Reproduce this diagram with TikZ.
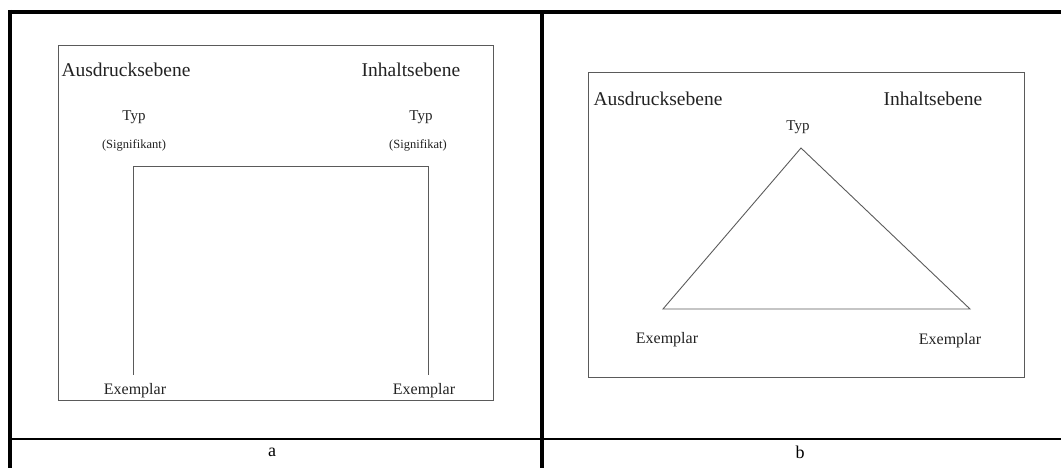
\documentclass[tikz,border=0pt]{standalone}
\usepackage{fontspec}
\setmainfont{Liberation Serif}
\usepackage{xcolor}
\usetikzlibrary{positioning,calc}

\definecolor{ink}{HTML}{222222}
\definecolor{pencil}{HTML}{5A5A5A}

\begin{document}
\begin{tikzpicture}[
  x=1pt, y=-1pt,
  every node/.style={inner sep=1pt, text=ink},
  ebene/.style={font=\fontsize{19.5}{22}\selectfont},
  typ/.style={font=\fontsize{15}{17}\selectfont},
  sig/.style={font=\fontsize{12.5}{14}\selectfont},
  exemplar/.style={font=\fontsize{16}{18}\selectfont},
  caption/.style={font=\fontsize{18}{20}\selectfont, text=black},
  frame/.style={draw=black, line width=4pt},
  rule/.style={draw=black, line width=2.2pt},
  panel/.style={draw=pencil, line width=0.9pt},
  link/.style={draw=pencil, line width=0.9pt}
]
\useasboundingbox (0,0) rectangle (1061,468);

% table
\draw[frame] (8,12) -- (1061,12);
\draw[frame] (10,10) -- (10,468);
\draw[frame] (542,12) -- (542,468);
\draw[rule] (10,439) -- (1061,439);
\node[caption] (capA) at (272,452) {a};
\node[caption] (capB) at (800,452) {b};

% panel a
\draw[panel] (58,45) rectangle (493,400);
\node[ebene] (ausdA) at (126,70) {Ausdrucksebene};
\node[ebene] (inhA) at (411,70) {Inhaltsebene};
\node[typ] (typA1) at (134,117) {Typ};
\node[typ] (typA2) at (421,117) {Typ};
\node[sig] (sigA1) at (134,145) {(Signifikant)};
\node[sig] (sigA2) at (418,145) {(Signifikat)};
\node[exemplar] (exA1) at (135,391) {Exemplar};
\node[exemplar] (exA2) at (424,391) {Exemplar};
\coordinate (kA1) at (133,166);
\coordinate (kA2) at (428,166);
\draw[link, shorten <=8pt, shorten >=8pt]
  (kA1 |- exA1.north) -- (kA1) -- (kA2) -- (kA2 |- exA2.north);

% panel b
\draw[panel] (588,72) rectangle (1024,377);
\node[ebene] (ausdB) at (658,99) {Ausdrucksebene};
\node[ebene] (inhB) at (933,99) {Inhaltsebene};
\node[typ] (typB) at (798,127) {Typ};
\node[exemplar] (exB1) at (667,340) {Exemplar};
\node[exemplar] (exB2) at (950,341) {Exemplar};
\coordinate (tB) at (801,148);
\coordinate (lB) at (663,309);
\coordinate (rB) at (970,309);
\draw[link] (tB) -- (lB) -- (rB) -- cycle;
\end{tikzpicture}
\end{document}
